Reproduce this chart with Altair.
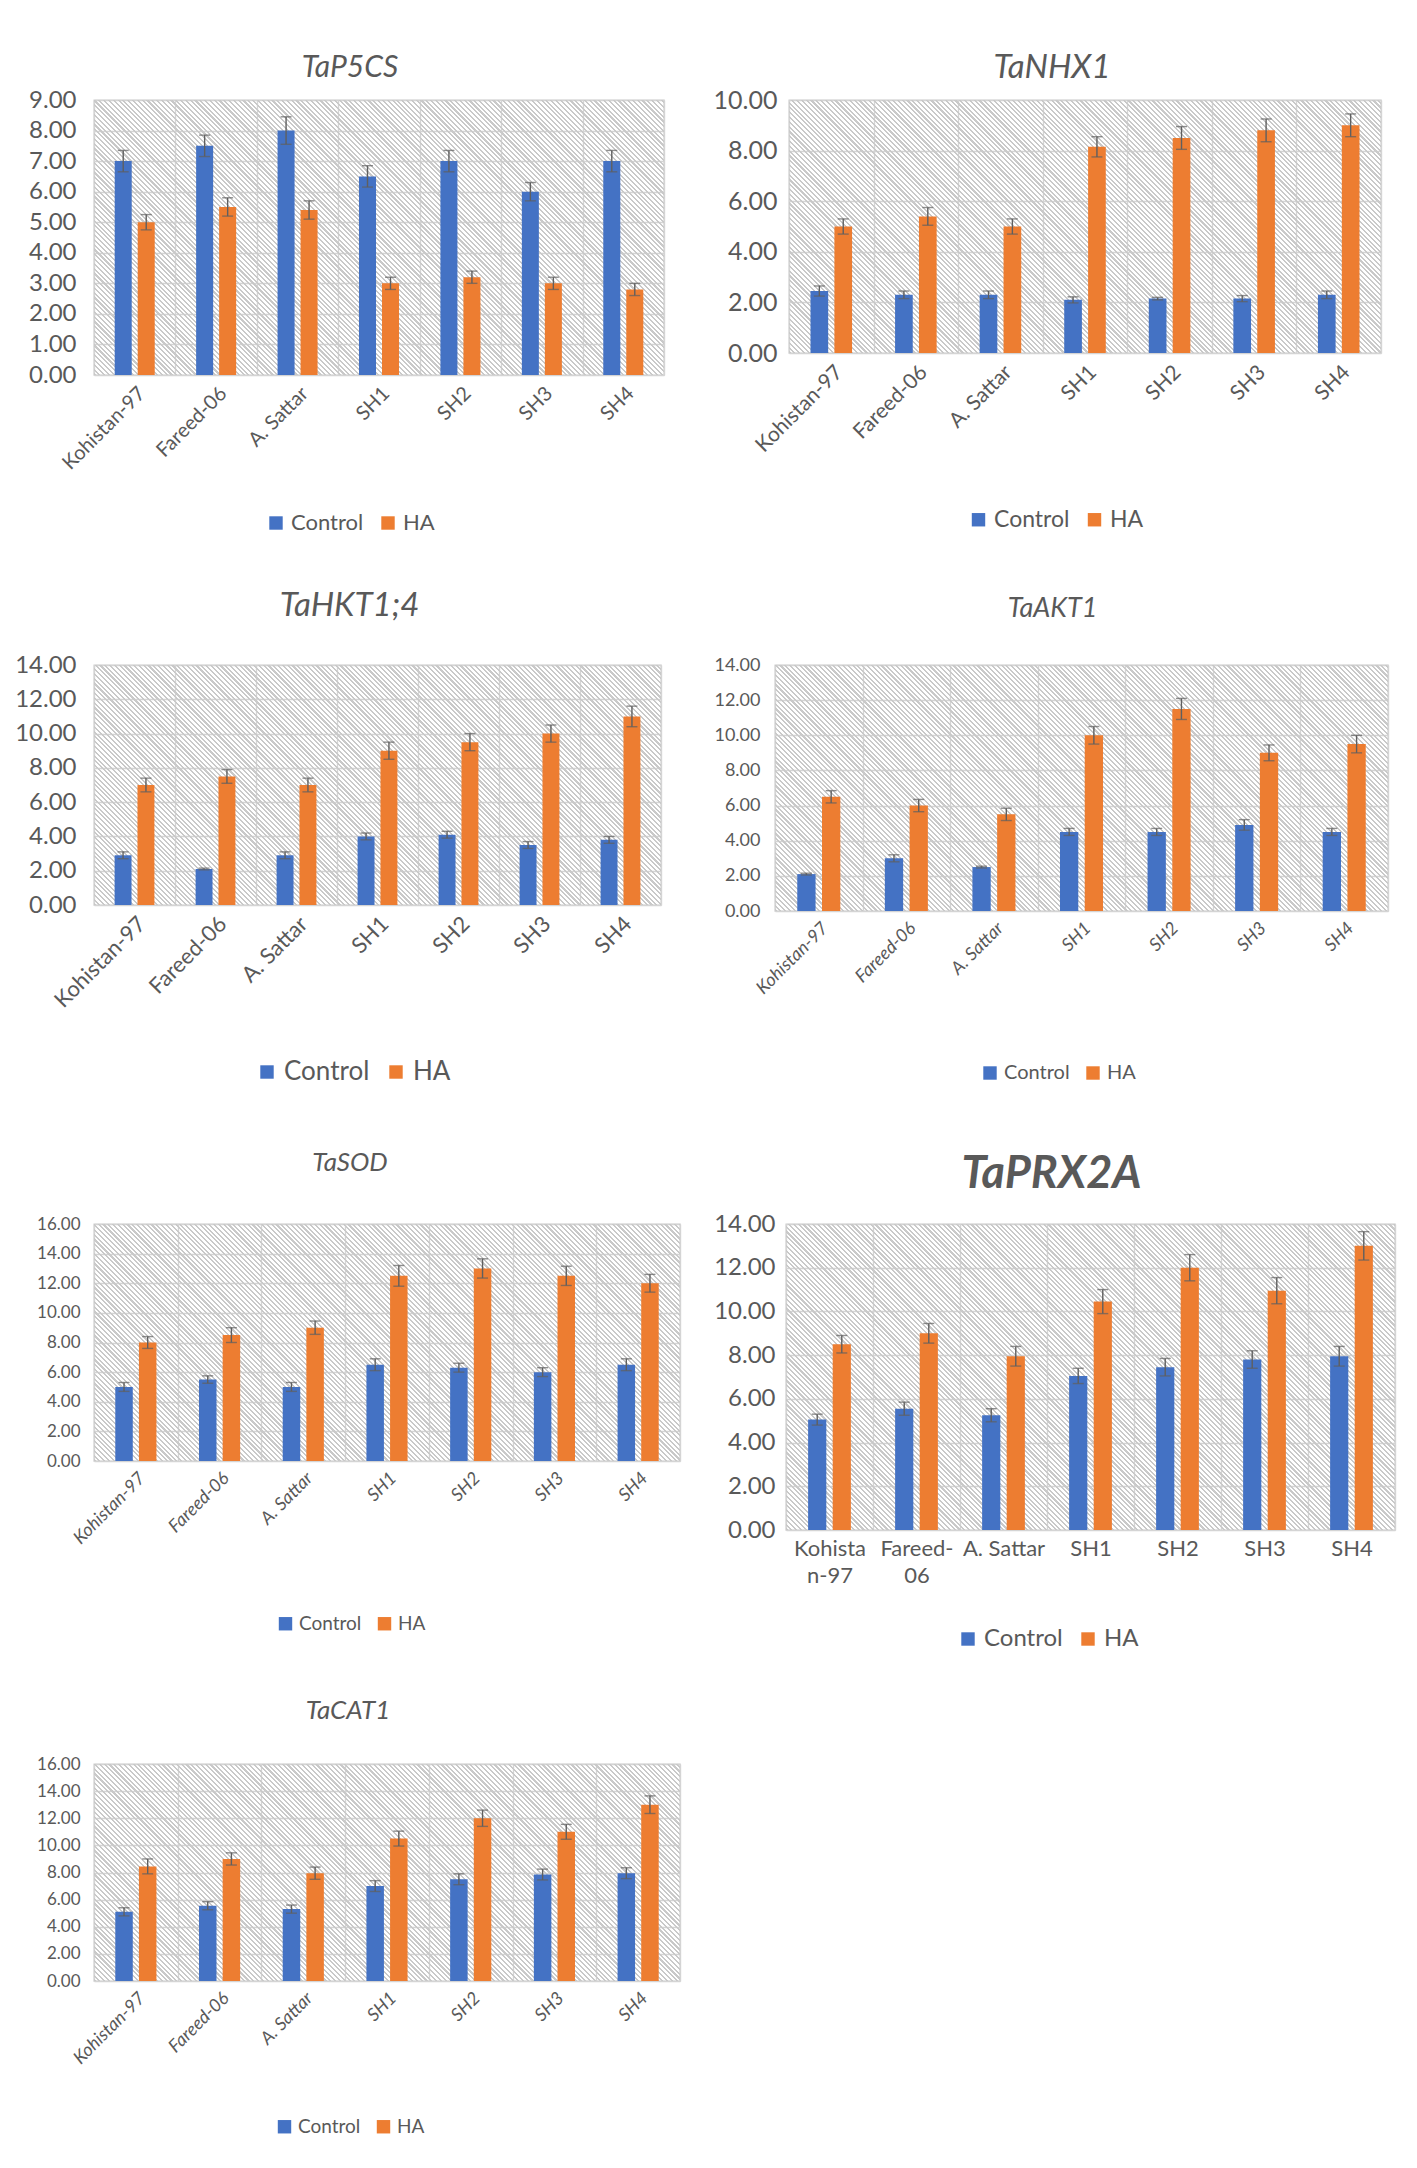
import altair as alt
import pandas as pd
import numpy as np

cultivars = ["Kohistan-97", "Fareed-06", "A. Sattar", "SH1", "SH2", "SH3", "SH4"]
treatments = ["Control", "HA"]

# ---- data (relative expression) ----
p5cs_ctrl = [7.0, 7.5, 8.0, 6.5, 7.0, 6.0, 7.0]
p5cs_ctrl_err = [0.35, 0.35, 0.45, 0.35, 0.35, 0.30, 0.35]
p5cs_ha = [5.0, 5.5, 5.4, 3.0, 3.2, 3.0, 2.8]
p5cs_ha_err = [0.25, 0.30, 0.30, 0.20, 0.20, 0.20, 0.20]

nhx1_ctrl = [2.45, 2.3, 2.3, 2.1, 2.15, 2.15, 2.3]
nhx1_ctrl_err = [0.20, 0.15, 0.15, 0.12, 0.05, 0.12, 0.15]
nhx1_ha = [5.0, 5.4, 5.0, 8.15, 8.5, 8.8, 9.0]
nhx1_ha_err = [0.30, 0.35, 0.30, 0.40, 0.45, 0.45, 0.45]

hkt_ctrl = [2.9, 2.1, 2.9, 4.0, 4.1, 3.5, 3.8]
hkt_ctrl_err = [0.20, 0.05, 0.20, 0.20, 0.20, 0.20, 0.20]
hkt_ha = [7.0, 7.5, 7.0, 9.0, 9.5, 10.0, 11.0]
hkt_ha_err = [0.40, 0.40, 0.40, 0.50, 0.50, 0.50, 0.60]

akt1_ctrl = [2.1, 3.0, 2.5, 4.5, 4.5, 4.9, 4.5]
akt1_ctrl_err = [0.05, 0.20, 0.05, 0.20, 0.20, 0.30, 0.20]
akt1_ha = [6.5, 6.0, 5.5, 10.0, 11.5, 9.0, 9.5]
akt1_ha_err = [0.35, 0.35, 0.35, 0.50, 0.60, 0.45, 0.50]

sod_ctrl = [5.0, 5.5, 5.0, 6.5, 6.3, 6.0, 6.5]
sod_ctrl_err = [0.30, 0.25, 0.30, 0.40, 0.30, 0.30, 0.40]
sod_ha = [8.0, 8.5, 9.0, 12.5, 13.0, 12.5, 12.0]
sod_ha_err = [0.40, 0.50, 0.45, 0.70, 0.65, 0.65, 0.60]

prx_ctrl = [5.05, 5.55, 5.25, 7.05, 7.45, 7.8, 7.95]
prx_ctrl_err = [0.25, 0.30, 0.30, 0.35, 0.40, 0.40, 0.45]
prx_ha = [8.5, 9.0, 7.95, 10.45, 12.0, 10.95, 13.0]
prx_ha_err = [0.40, 0.45, 0.45, 0.55, 0.60, 0.60, 0.65]

cat1_ctrl = [5.1, 5.55, 5.3, 7.0, 7.5, 7.85, 7.95]
cat1_ctrl_err = [0.30, 0.30, 0.30, 0.40, 0.40, 0.40, 0.40]
cat1_ha = [8.45, 9.0, 7.95, 10.5, 12.0, 11.0, 13.0]
cat1_ha_err = [0.55, 0.45, 0.45, 0.55, 0.60, 0.55, 0.65]

BLUE = "#4472C4"
ORANGE = "#ED7D31"
TEXT = "#595959"
GRID = "#d4d4d4"
ERR = "#5f5f5f"
FONT = "Lato"


def hatch(w, h, period=3.4, lw=0.45, line="rgba(200,200,200,0.3)", bg="rgba(255,255,255,0)"):
    r = w / h
    frac = (r + 1) / (r * r + 1)
    n = int(round((w + h) / np.sqrt(2) / period / frac))
    stops = []
    for i in range(n):
        a, b, c = i / n, (i + lw) / n, (i + 1) / n
        stops += [alt.GradientStop(offset=a, color=line), alt.GradientStop(offset=b, color=line),
                  alt.GradientStop(offset=b, color=bg), alt.GradientStop(offset=c, color=bg)]
    return alt.LinearGradient(gradient="linear", x1=0, y1=1, x2=r, y2=0, stops=stops)


def frame(ctrl, ctrl_err, ha, ha_err):
    rows = []
    for t, vals, errs in (("Control", ctrl, ctrl_err), ("HA", ha, ha_err)):
        for c, v, e in zip(cultivars, vals, errs):
            rows.append({"Cultivar": c, "Treatment": t, "value": v, "lo": v - e, "hi": v + e})
    return pd.DataFrame(rows)


def panel(gene, data, s):
    df = frame(*data)
    yvals = [float(v) for v in np.arange(0, s["ymax"] + 1e-9, s["ystep"])]
    common = dict(title=None, labelFont=FONT, labelFontSize=s["xlab"], labelColor=TEXT,
                  domain=False, ticks=False, grid=True, tickBand="extent", gridColor=GRID,
                  gridWidth=1.4, labelPadding=8)
    if s.get("labelExpr"):
        xaxis = alt.Axis(labelAngle=0, labelExpr=s["labelExpr"], labelLineHeight=s["xlab"] + 5, **common)
    else:
        xaxis = alt.Axis(labelAngle=s["angle"], labelFontStyle="italic" if s["xital"] else "normal",
                         **common)
    x = alt.X("Cultivar:N", sort=cultivars, axis=xaxis, scale=alt.Scale(paddingInner=0, paddingOuter=0))
    xo = alt.XOffset("Treatment:N", sort=treatments, scale=alt.Scale(paddingInner=0.26, paddingOuter=0.9))
    yscale = alt.Scale(domain=[0, s["ymax"]], nice=False)
    yaxis = alt.Axis(title=None, values=yvals, format=".2f", labelFont=FONT, labelFontSize=s["ylab"],
                     labelColor=TEXT, domain=False, ticks=False, gridColor=GRID, gridWidth=1.4,
                     labelPadding=s["ypad"], minExtent=s["yext"], labelOverlap=False)
    base = alt.Chart(df)
    bg = alt.Chart(df).mark_rect(fill=hatch(s["w"], s["h"]), opacity=1, strokeWidth=0).encode(
        x=alt.value(0), x2=alt.value(s["w"]), y=alt.value(0), y2=alt.value(s["h"]))
    bars = base.mark_bar().encode(
        x=x, xOffset=xo,
        y=alt.Y("value:Q", scale=yscale, axis=yaxis),
        color=alt.Color("Treatment:N", scale=alt.Scale(domain=treatments, range=[BLUE, ORANGE]),
                        legend=alt.Legend(title=None, orient="none", legendX=s["lx"], legendY=s["ly"],
                                          direction="horizontal", symbolType="square", symbolSize=180,
                                          symbolStrokeWidth=0, labelFont=FONT, labelFontSize=s["leg"],
                                          labelColor=TEXT, columnPadding=13, labelOffset=4)),
    )
    rule = base.mark_rule(color=ERR, strokeWidth=1.4).encode(
        x=x, xOffset=xo, y=alt.Y("lo:Q", scale=yscale, axis=yaxis), y2="hi:Q")
    cap_hi = base.mark_tick(color=ERR, thickness=1.4, size=11).encode(
        x=x, xOffset=xo, y=alt.Y("hi:Q", scale=yscale, axis=yaxis))
    cap_lo = base.mark_tick(color=ERR, thickness=1.4, size=11).encode(
        x=x, xOffset=xo, y=alt.Y("lo:Q", scale=yscale, axis=yaxis))
    return alt.layer(bg, bars, rule, cap_hi, cap_lo).properties(
        width=s["w"], height=s["h"],
        view=alt.ViewBackground(stroke=GRID, strokeWidth=1.4),
        title=alt.TitleParams(text=gene, font=FONT, fontSize=s["tsize"], fontStyle="italic",
                              fontWeight="bold" if s.get("tbold") else "normal", color=TEXT,
                              anchor="middle", offset=s["toff"], dx=s["tdx"]),
    )


styles = {
    "TaP5CS": dict(w=570, h=275, ymax=9, ystep=1, tsize=30, toff=5, tdx=-29, ylab=24, ypad=18,
                   xlab=20, xital=False, angle=-45, leg=22, lx=171, ly=412, yext=80),
    "TaNHX1": dict(w=592, h=253, ymax=10, ystep=2, tsize=33, toff=3, tdx=-33, ylab=25, ypad=12,
                   xlab=21, xital=False, angle=-45, leg=23, lx=178, ly=408, yext=113),
    "TaHKT1;4": dict(w=567, h=240, ymax=14, ystep=2, tsize=33, toff=30, tdx=-28, ylab=24, ypad=18,
                     xlab=22, xital=False, angle=-45, leg=26, lx=160, ly=394, yext=80),
    "TaAKT1": dict(w=613, h=246, ymax=14, ystep=2, tsize=27, toff=33, tdx=-29, ylab=18, ypad=15,
                   xlab=18, xital=True, angle=-45, leg=20, lx=205, ly=398, yext=102),
    "TaSOD": dict(w=586, h=237, ymax=16, ystep=2, tsize=26, toff=39, tdx=-37, ylab=17, ypad=14,
                  xlab=18, xital=True, angle=-45, leg=19, lx=182, ly=390, yext=80),
    "TaPRX2A": dict(w=609, h=306, ymax=14, ystep=2, tsize=45, tbold=True, toff=15, tdx=-39, ylab=24,
                    ypad=11, xlab=22, xital=False, angle=0, leg=24, lx=170, ly=403, yext=94,
                    labelExpr="datum.value == 'Kohistan-97' ? ['Kohista', 'n-97'] : datum.value == 'Fareed-06' ? ['Fareed-', '06'] : datum.value"),
    "TaCAT1": dict(w=586, h=217, ymax=16, ystep=2, tsize=26, toff=31, tdx=-39, ylab=17, ypad=14,
                   xlab=18, xital=True, angle=-45, leg=19, lx=181, ly=353, yext=80),
}

p1 = panel("TaP5CS", (p5cs_ctrl, p5cs_ctrl_err, p5cs_ha, p5cs_ha_err), styles["TaP5CS"])
p2 = panel("TaNHX1", (nhx1_ctrl, nhx1_ctrl_err, nhx1_ha, nhx1_ha_err), styles["TaNHX1"])
p3 = panel("TaHKT1;4", (hkt_ctrl, hkt_ctrl_err, hkt_ha, hkt_ha_err), styles["TaHKT1;4"])
p4 = panel("TaAKT1", (akt1_ctrl, akt1_ctrl_err, akt1_ha, akt1_ha_err), styles["TaAKT1"])
p5 = panel("TaSOD", (sod_ctrl, sod_ctrl_err, sod_ha, sod_ha_err), styles["TaSOD"])
p6 = panel("TaPRX2A", (prx_ctrl, prx_ctrl_err, prx_ha, prx_ha_err), styles["TaPRX2A"])
p7 = panel("TaCAT1", (cat1_ctrl, cat1_ctrl_err, cat1_ha, cat1_ha_err), styles["TaCAT1"])


def indep(c):
    return c.resolve_scale(color="independent", xOffset="independent").resolve_legend(color="independent")


def row(a, b):
    return indep(alt.concat(a, b, columns=2, spacing=10))


def stack(items, spacing):
    return indep(alt.concat(*items, columns=1, spacing=spacing))


top = stack([row(p1, p2), row(p3, p4)], 54)
bottom = stack([row(p5, p6), p7], 45)
chart = stack([top, bottom], 63).properties(
    padding={"left": 5, "top": 43, "right": 5, "bottom": 5}, background="white")

chart.save("out.html", embed_options={"renderer": "svg", "actions": False})
